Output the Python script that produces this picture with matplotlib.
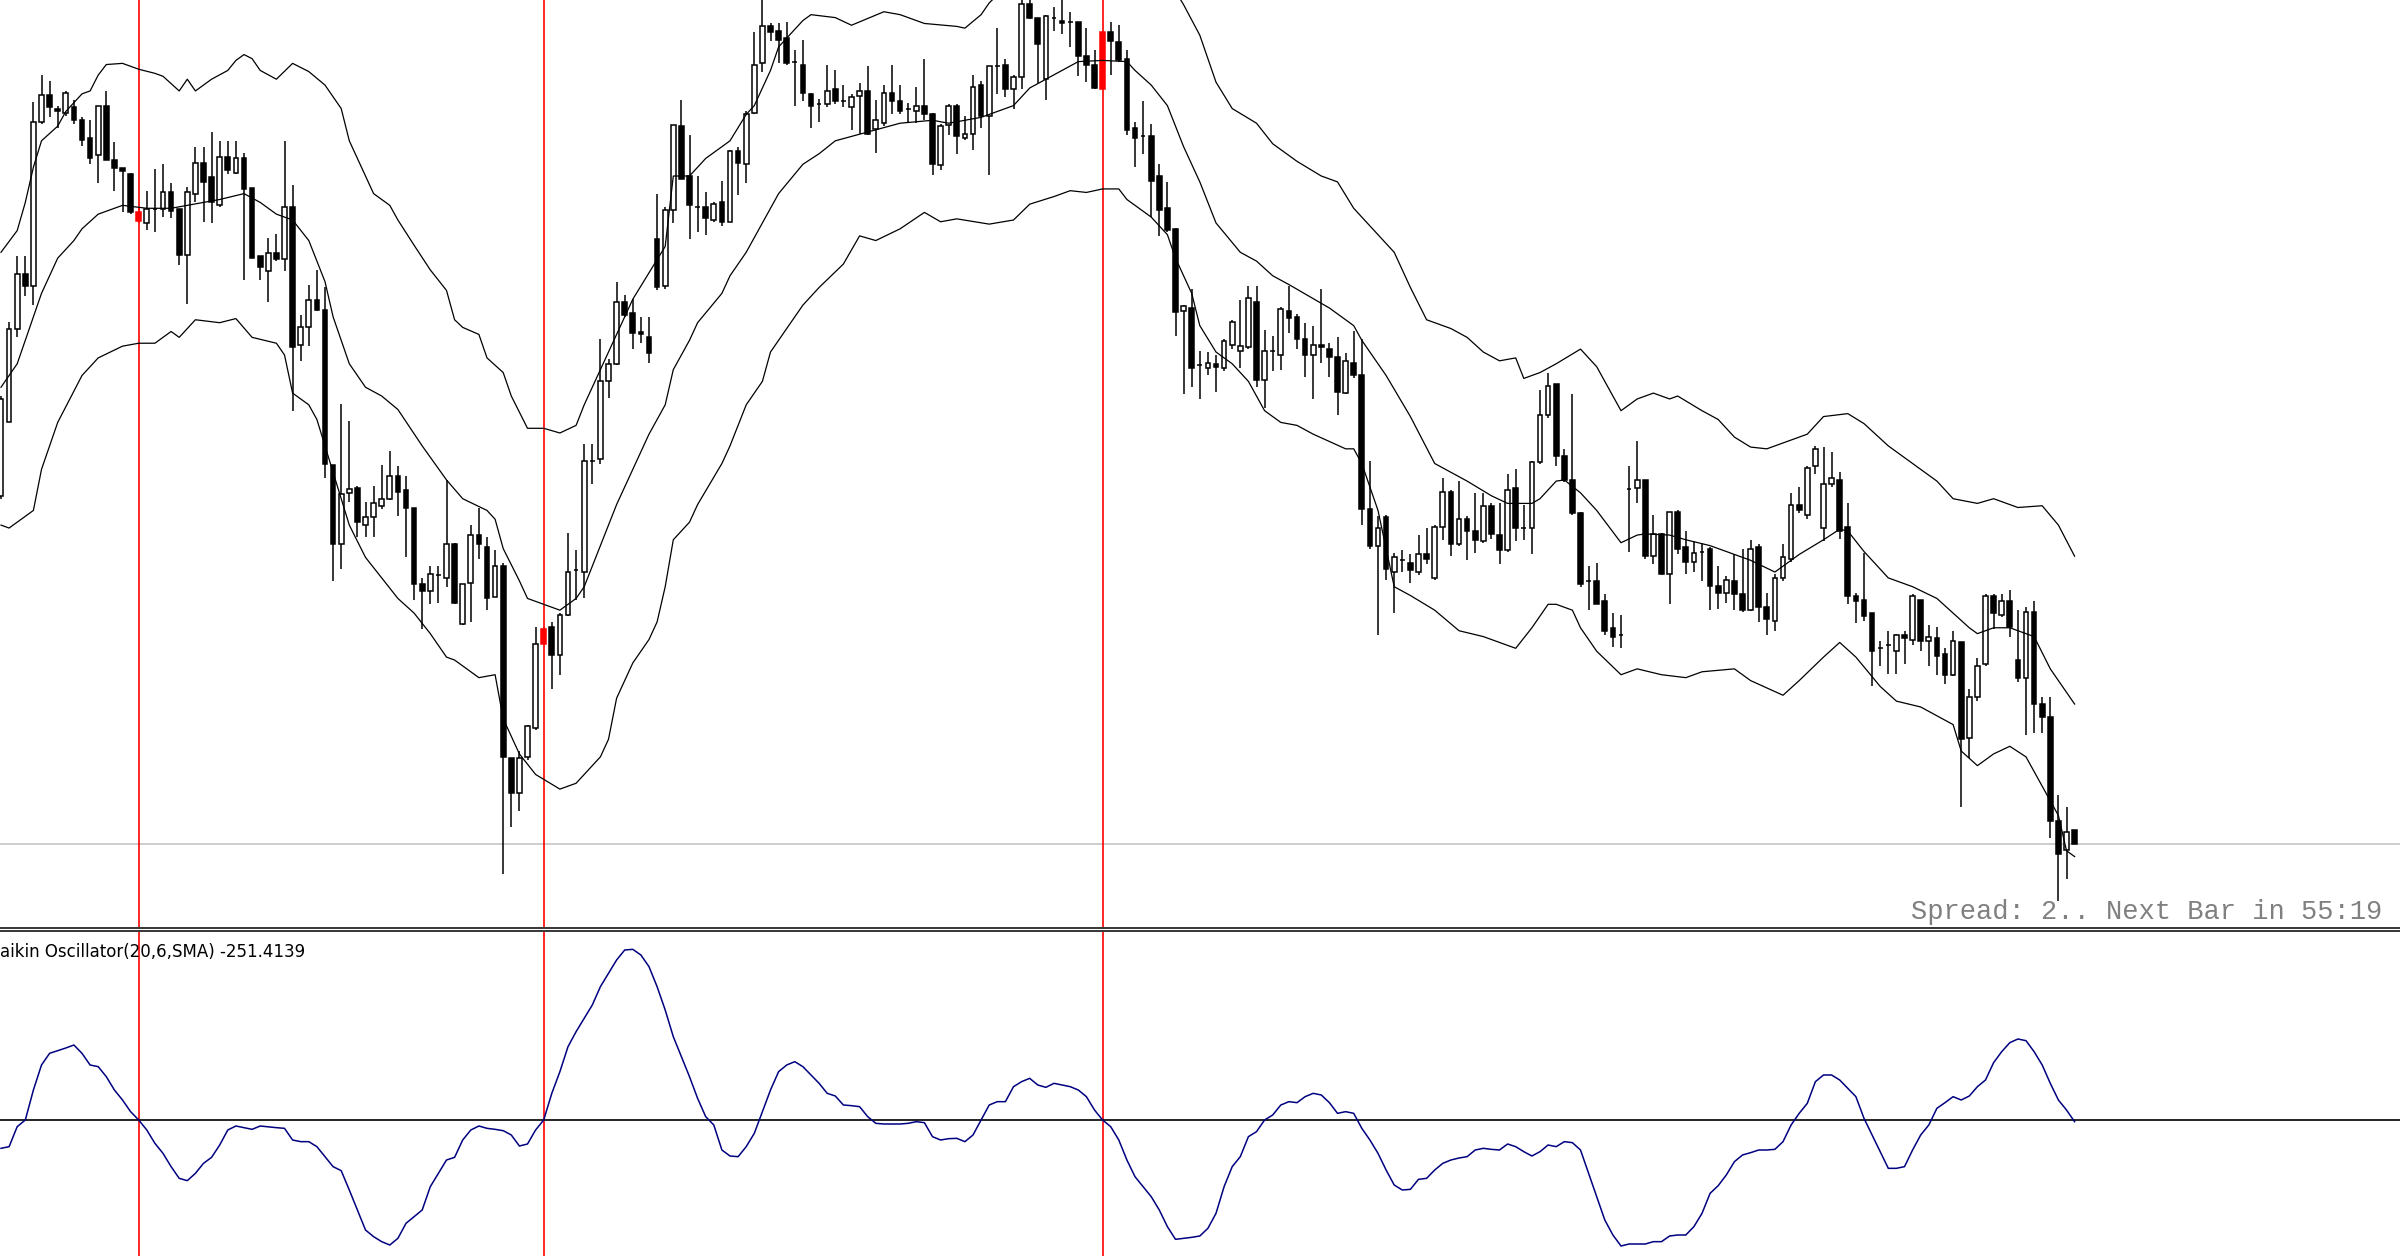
import numpy as np
import matplotlib
matplotlib.use('Agg')
import matplotlib.pyplot as plt
from matplotlib.lines import Line2D

# Prices are in chart points (the screenshot shows no price scale).
opens = [723, 848, 1008, 1101, 1081, 1360, 1406, 1382, 1376, 1386,
         1363, 1333, 1303, 1388, 1296, 1281, 1271, 1206, 1188, 1211,
         1211, 1240, 1211, 1133, 1238, 1291, 1266, 1218, 1301, 1273,
         1298, 1248, 1131, 1106, 1136, 1126, 1216, 980, 1011, 1056,
         1040, 776, 640, 728, 736, 673, 686, 706, 718, 756,
         733, 703, 573, 560, 588, 583, 640, 505, 575, 656,
         636, 550, 603, 276, 216, 278, 328, 471, 500, 451,
         520, 596, 593, 783, 786, 918, 948, 1053, 1035, 1002,
         993, 1160, 1080, 1210, 1353, 1268, 1215, 1216, 1193, 1223,
         1190, 1310, 1288, 1375, 1460, 1523, 1516, 1503, 1463, 1458,
         1408, 1391, 1390, 1416, 1396, 1385, 1405, 1413, 1348, 1358,
         1410, 1396, 1383, 1378, 1388, 1373, 1286, 1355, 1388, 1333,
         1340, 1423, 1370, 1455, 1458, 1416, 1436, 1561, 1538, 1433,
         1538, 1532, 1530, 1530, 1473, 1458, 1416, 1513, 1496, 1468,
         1350, 1336, 1336, 1268, 1213, 1178, 1038, 1043, 946, 940,
         948, 940, 980, 970, 976, 1053, 920, 970, 963, 1038,
         1028, 991, 963, 980, 973, 960, 898, 950, 928, 700,
         638, 686, 593, 613, 608, 593, 623, 583, 670, 730,
         640, 683, 663, 646, 706, 656, 630, 736, 668, 668,
         780, 860, 913, 790, 750, 693, 578, 578, 543, 498,
         486, 735, 736, 750, 620, 658, 590, 696, 636, 610,
         628, 633, 570, 558, 578, 556, 528, 636, 533, 510,
         583, 616, 708, 690, 773, 668, 743, 750, 670, 553,
         546, 523, 463, 468, 458, 486, 478, 546, 476, 480,
         453, 418, 473, 310, 380, 436, 553, 520, 543, 443,
         413, 525, 368, 346, 168, 120, 153]
highs = [893, 1020, 1131, 1131, 1395, 1440, 1430, 1388, 1413, 1398,
         1368, 1363, 1388, 1413, 1326, 1281, 1273, 1213, 1243, 1280,
         1288, 1256, 1211, 1250, 1318, 1318, 1343, 1328, 1328, 1328,
         1308, 1248, 1131, 1163, 1170, 1328, 1253, 1031, 1083, 1108,
         1078, 776, 880, 850, 740, 713, 740, 775, 800, 773,
         756, 703, 583, 603, 603, 750, 643, 573, 673, 703,
         653, 630, 608, 276, 288, 333, 500, 500, 508, 523,
         660, 631, 811, 811, 991, 956, 1088, 1065, 1058, 1028,
         1028, 1238, 1216, 1355, 1398, 1338, 1268, 1240, 1223, 1260,
         1313, 1318, 1378, 1513, 1575, 1528, 1528, 1530, 1483, 1500,
         1410, 1400, 1458, 1448, 1423, 1408, 1426, 1456, 1398, 1423,
         1458, 1423, 1393, 1420, 1468, 1376, 1356, 1390, 1390, 1370,
         1440, 1430, 1455, 1521, 1468, 1440, 1575, 1575, 1538, 1543,
         1556, 1575, 1548, 1530, 1520, 1483, 1513, 1530, 1526, 1483,
         1360, 1396, 1356, 1288, 1258, 1180, 1048, 1076, 970, 968,
         963, 990, 1023, 1056, 1081, 1081, 1005, 996, 1045, 1080,
         1033, 1018, 1013, 1075, 983, 993, 966, 1003, 990, 783,
         688, 690, 626, 630, 623, 656, 668, 673, 753, 733,
         748, 688, 728, 728, 710, 710, 760, 768, 708, 783,
         903, 933, 913, 803, 896, 696, 603, 608, 556, 523,
         520, 773, 816, 750, 690, 660, 696, 698, 663, 646,
         643, 636, 603, 586, 623, 633, 648, 640, 558, 590,
         640, 728, 738, 773, 808, 806, 798, 763, 710, 558,
         626, 523, 476, 493, 488, 493, 556, 546, 503, 500,
         463, 493, 473, 393, 446, 556, 556, 556, 563, 528,
         533, 543, 380, 380, 213, 193, 153]
lows = [718, 848, 993, 1063, 1048, 1356, 1368, 1350, 1370, 1356,
        1320, 1288, 1256, 1296, 1243, 1206, 1203, 1188, 1176, 1173,
        1198, 1196, 1116, 1050, 1223, 1190, 1188, 1216, 1271, 1271,
        1091, 1128, 1091, 1053, 1123, 1106, 868, 953, 978, 1038,
        753, 578, 598, 713, 653, 653, 653, 700, 716, 688,
        618, 546, 496, 538, 541, 568, 538, 503, 508, 615,
        528, 550, 78, 158, 186, 273, 323, 468, 393, 418,
        518, 546, 548, 743, 778, 890, 946, 1028, 973, 983,
        950, 1073, 1076, 1188, 1263, 1160, 1173, 1168, 1190, 1183,
        1190, 1236, 1256, 1373, 1446, 1498, 1460, 1458, 1388, 1396,
        1350, 1360, 1385, 1390, 1386, 1346, 1340, 1338, 1308, 1353,
        1373, 1373, 1358, 1358, 1363, 1270, 1278, 1338, 1306, 1330,
        1313, 1350, 1270, 1408, 1403, 1383, 1416, 1536, 1426, 1398,
        1516, 1510, 1488, 1438, 1428, 1416, 1416, 1440, 1463, 1338,
        1283, 1306, 1198, 1166, 1173, 996, 896, 908, 888, 928,
        900, 936, 973, 940, 973, 908, 873, 936, 938, 1000,
        973, 925, 888, 950, 926, 860, 896, 923, 673, 633,
        486, 580, 523, 593, 575, 588, 606, 580, 648, 620,
        638, 613, 626, 643, 650, 606, 628, 646, 648, 623,
        778, 856, 773, 746, 691, 568, 528, 538, 486, 466,
        463, 628, 710, 616, 606, 588, 538, 623, 590, 593,
        578, 528, 530, 540, 528, 525, 526, 508, 486, 493,
        578, 610, 693, 683, 760, 646, 738, 650, 538, 506,
        510, 398, 433, 420, 420, 436, 468, 458, 433, 418,
        403, 416, 193, 276, 373, 433, 496, 516, 483, 406,
        316, 318, 318, 140, 33, 70, 130]
closes = [888, 1008, 1101, 1081, 1360, 1406, 1386, 1378, 1410, 1363,
          1330, 1298, 1388, 1296, 1281, 1276, 1206, 1191, 1211, 1211,
          1240, 1208, 1133, 1240, 1291, 1258, 1223, 1301, 1278, 1298,
          1246, 1128, 1113, 1136, 1126, 1216, 976, 1011, 1056, 1040,
          778, 640, 726, 735, 678, 686, 711, 718, 756, 730,
          703, 573, 560, 590, 588, 640, 541, 573, 656, 640,
          548, 603, 278, 216, 276, 331, 471, 496, 451, 520,
          593, 596, 783, 783, 918, 948, 1053, 1031, 1001, 998,
          966, 1078, 1210, 1355, 1263, 1218, 1215, 1196, 1220, 1190,
          1310, 1290, 1373, 1458, 1523, 1513, 1500, 1460, 1463, 1410,
          1388, 1391, 1413, 1396, 1396, 1403, 1413, 1340, 1363, 1410,
          1396, 1378, 1383, 1388, 1373, 1288, 1353, 1388, 1336, 1340,
          1420, 1370, 1455, 1455, 1416, 1436, 1561, 1538, 1493, 1541,
          1538, 1528, 1530, 1473, 1458, 1418, 1513, 1498, 1466, 1346,
          1333, 1336, 1260, 1210, 1176, 1036, 1046, 940, 946, 950,
          943, 986, 1020, 978, 1060, 920, 970, 970, 1041, 1026,
          990, 963, 980, 976, 960, 900, 953, 928, 700, 638,
          668, 598, 618, 613, 596, 623, 616, 670, 730, 640,
          683, 663, 648, 706, 658, 631, 733, 668, 668, 780,
          860, 910, 790, 750, 693, 573, 578, 538, 493, 483,
          486, 735, 750, 620, 658, 590, 696, 633, 610, 626,
          628, 570, 558, 580, 556, 528, 633, 533, 513, 583,
          618, 708, 698, 770, 803, 743, 753, 663, 553, 543,
          518, 458, 463, 468, 486, 480, 553, 476, 483, 450,
          418, 475, 308, 380, 433, 553, 523, 543, 500, 413,
          525, 368, 346, 168, 113, 150, 130]
signal_bars = [17, 67, 136]

# Bollinger bands, read at the bars where they could be read
upper_bars = [0, 2, 3, 4, 5, 7, 8, 10, 11, 12, 13, 15, 17, 19, 20, 22, 23, 24, 26, 28,
              29, 30, 31, 32, 34, 36, 38, 40, 42, 43, 45, 46, 48, 49, 51, 53, 55, 56, 57, 59,
              60, 62, 63, 65, 67, 69, 71, 72, 74, 76, 78, 80, 82, 83, 85, 87, 90, 92, 93, 95,
              96, 99, 100, 103, 105, 109, 111, 114, 118, 119, 121, 122, 124, 127, 130, 133, 136, 138, 140, 142,
              144, 146, 148, 150, 152, 155, 157, 160, 163, 165, 167, 169, 172, 174, 176, 179, 181, 183, 185, 187,
              188, 190, 192, 195, 197, 200, 202, 204, 206, 207, 210, 212, 214, 216, 218, 220, 223, 225, 228, 230,
              233, 236, 239, 241, 244, 246, 249, 252, 254, 256]
upper_band = [1138, 1175, 1223, 1283, 1328, 1353, 1378, 1408, 1413, 1440, 1458, 1460, 1450, 1443, 1438, 1413, 1433, 1413, 1433, 1448,
              1465, 1475, 1468, 1448, 1433, 1460, 1446, 1423, 1383, 1328, 1268, 1238, 1218, 1193, 1150, 1108, 1073, 1023, 1010, 998,
              958, 933, 893, 838, 838, 830, 843, 878, 938, 998, 1058, 1103, 1148, 1268, 1268, 1298, 1328, 1373, 1388, 1448,
              1488, 1533, 1543, 1538, 1525, 1548, 1543, 1528, 1523, 1520, 1543, 1563, 1590, 1606, 1644, 1686, 1684, 1680, 1667, 1648,
              1605, 1560, 1508, 1428, 1383, 1358, 1323, 1293, 1268, 1258, 1213, 1183, 1138, 1078, 1023, 1008, 993, 968, 953, 958,
              923, 933, 948, 973, 943, 868, 888, 898, 888, 893, 868, 853, 823, 806, 803, 813, 828, 858, 863, 846,
              808, 778, 748, 718, 710, 718, 703, 706, 673, 620]
middle_bars = [0, 2, 3, 5, 7, 9, 10, 12, 15, 18, 21, 23, 25, 27, 30, 32, 34, 36, 38, 40,
               41, 43, 45, 47, 49, 52, 55, 57, 60, 61, 62, 64, 65, 67, 69, 71, 72, 74, 76, 78,
               80, 82, 83, 85, 86, 89, 90, 92, 94, 96, 99, 101, 103, 107, 111, 115, 117, 121, 123, 125,
               127, 131, 133, 136, 139, 140, 142, 144, 146, 148, 150, 153, 155, 157, 159, 164, 166, 167, 168, 171,
               174, 177, 179, 181, 184, 186, 189, 190, 192, 193, 195, 197, 200, 202, 203, 206, 208, 211, 214, 216,
               219, 220, 222, 225, 227, 228, 230, 233, 236, 239, 241, 243, 244, 246, 248, 251, 253, 255, 256]
middle_band = [908, 948, 988, 1068, 1128, 1158, 1178, 1203, 1218, 1213, 1213, 1218, 1223, 1228, 1238, 1223, 1203, 1193, 1158, 1088,
               1028, 948, 908, 893, 870, 808, 750, 718, 698, 683, 633, 578, 548, 538, 528, 548, 568, 638, 708, 768,
               828, 878, 938, 988, 1018, 1068, 1098, 1138, 1188, 1238, 1288, 1306, 1328, 1343, 1358, 1363, 1358, 1368, 1378, 1388,
               1418, 1448, 1463, 1465, 1463, 1448, 1423, 1388, 1318, 1258, 1188, 1138, 1123, 1098, 1083, 1043, 1023, 1013, 988, 928,
               858, 778, 763, 748, 723, 710, 710, 718, 748, 750, 728, 698, 643, 656, 658, 656, 648, 638, 623, 613,
               593, 603, 623, 648, 666, 663, 628, 583, 568, 548, 523, 498, 488, 498, 498, 483, 428, 388, 368]
lower_bars = [0, 1, 4, 5, 7, 10, 12, 15, 17, 19, 21, 22, 24, 27, 29, 31, 34, 35, 36, 38,
              39, 40, 43, 45, 49, 51, 53, 55, 56, 59, 61, 62, 64, 66, 69, 71, 72, 74, 75, 76,
              78, 80, 81, 82, 83, 85, 86, 89, 90, 92, 94, 95, 97, 99, 101, 104, 106, 108, 111, 114,
              116, 118, 122, 125, 127, 130, 132, 134, 136, 138, 139, 142, 144, 145, 147, 148, 150, 152, 154, 156,
              158, 160, 162, 166, 167, 168, 170, 172, 174, 177, 180, 183, 187, 189, 191, 192, 194, 195, 197, 200,
              202, 205, 208, 210, 214, 216, 220, 222, 225, 227, 229, 232, 234, 237, 241, 242, 244, 246, 248, 250,
              252, 254, 255, 256]
lower_band = [673, 668, 698, 768, 848, 928, 958, 978, 983, 983, 1003, 993, 1023, 1018, 1025, 993, 983, 963, 898, 878,
              853, 808, 673, 618, 548, 523, 488, 448, 443, 413, 418, 343, 283, 248, 223, 233, 248, 278, 308, 378,
              438, 478, 508, 568, 648, 678, 708, 778, 808, 878, 918, 968, 1008, 1048, 1078, 1118, 1166, 1158, 1178, 1206,
              1190, 1195, 1186, 1193, 1220, 1233, 1243, 1240, 1246, 1246, 1228, 1198, 1168, 1128, 1068, 1013, 968, 948, 918, 868,
              848, 843, 828, 803, 803, 778, 698, 568, 553, 528, 493, 483, 463, 498, 538, 538, 528, 498, 458, 418,
              428, 418, 413, 423, 428, 408, 383, 408, 448, 473, 448, 398, 373, 363, 333, 288, 263, 283, 296, 278,
              228, 178, 118, 108]

# Chaikin Oscillator(20,6,SMA)
osc_bars = [0, 1, 2, 3, 4, 5, 6, 8, 9, 10, 11, 12, 13, 14, 15, 16, 17, 18, 19, 20,
            21, 22, 23, 24, 25, 26, 27, 28, 29, 31, 32, 34, 35, 36, 37, 38, 39, 40, 41, 42,
            43, 44, 45, 46, 47, 48, 49, 50, 51, 52, 53, 54, 55, 56, 57, 58, 59, 60, 61, 62,
            63, 64, 65, 66, 67, 68, 69, 70, 71, 72, 73, 74, 75, 76, 77, 78, 79, 80, 81, 82,
            83, 84, 85, 86, 87, 88, 89, 90, 91, 92, 93, 94, 95, 96, 97, 98, 99, 100, 101, 102,
            103, 104, 105, 106, 107, 108, 109, 110, 111, 112, 113, 114, 115, 116, 117, 118, 119, 120, 121, 122,
            123, 124, 125, 126, 127, 128, 129, 130, 131, 132, 133, 134, 135, 136, 137, 138, 139, 140, 141, 142,
            143, 144, 145, 146, 147, 148, 149, 150, 151, 152, 153, 154, 155, 156, 157, 158, 159, 160, 161, 162,
            163, 164, 165, 166, 167, 168, 169, 170, 171, 172, 173, 174, 175, 176, 177, 178, 179, 180, 181, 182,
            183, 184, 185, 186, 187, 188, 189, 190, 191, 192, 193, 194, 195, 196, 197, 198, 199, 200, 201, 202,
            203, 204, 205, 206, 207, 208, 209, 210, 211, 212, 213, 214, 215, 216, 217, 218, 219, 220, 221, 222,
            223, 224, 225, 226, 227, 228, 229, 230, 231, 232, 233, 234, 235, 236, 237, 238, 239, 240, 241, 242,
            243, 244, 245, 246, 247, 248, 249, 250, 251, 252, 253, 254, 255, 256]
osc_vals = [-4250, -4000, -1000, 0, 4500, 8250, 10000, 10800, 11250, 10000, 8250, 8000, 6500, 4500, 3000, 1250, 0, -1500, -3500, -5000,
            -7000, -8750, -9100, -8000, -6500, -5600, -3750, -1500, -900, -1400, -900, -1150, -1250, -3000, -3250, -3250, -4000, -5500, -7000, -7600,
            -10500, -13500, -16500, -17500, -18250, -18750, -17750, -15500, -14500, -13500, -10000, -8000, -6000, -5600, -3000, -1500, -900, -1250, -1400, -1600,
            -2250, -3900, -3600, -1500, 0, 4000, 7250, 11000, 13250, 15250, 17250, 20000, 22000, 24000, 25500, 25600, 24750, 23000, 20000, 16500,
            12500, 9500, 6500, 3250, 500, -750, -4500, -5400, -5500, -4000, -2000, 1250, 4500, 7250, 8250, 8750, 8000, 6750, 5500, 4000,
            3600, 2250, 2150, 2000, 500, -500, -600, -600, -600, -500, -250, -400, -2500, -3000, -2800, -2750, -3250, -2250, 0, 2250,
            2750, 2750, 5000, 5750, 6250, 5250, 4900, 5500, 5250, 5000, 4500, 3500, 1500, 0, -1000, -3000, -6000, -8500, -10000, -11500,
            -13500, -16000, -17900, -17750, -17600, -17400, -16250, -14000, -10000, -7000, -5500, -2500, -1750, 0, 750, 2250, 2750, 2600, 3500, 4000,
            3750, 2600, 1000, 1250, 1000, -1250, -3000, -5000, -7500, -9750, -10500, -10400, -8900, -8750, -7500, -6500, -6000, -5700, -5500, -4500,
            -4250, -4400, -4500, -3600, -4000, -4750, -5400, -4750, -3750, -4000, -3250, -3400, -4500, -8000, -11500, -15000, -17250, -18900, -18600, -18600,
            -18600, -18250, -18250, -17400, -17250, -17250, -16000, -14000, -11000, -9850, -8250, -6250, -5250, -4900, -4500, -4500, -4400, -3250, -750, 1000,
            2500, 5750, 6750, 6750, 6000, 4750, 3500, 250, -2250, -4750, -7250, -7250, -7000, -4500, -2250, -750, 1750, 2600, 3500, 3000,
            3600, 5000, 6000, 8600, 10250, 11600, 12150, 11900, 10250, 8250, 5500, 3000, 1500, -251.4139]

W, H = 2400, 1256          # output size in pixels
BAR_PX = 8.1               # horizontal spacing of bars
MAIN_BOTTOM = 927          # main window ends here (px from top)
OSC_TOP = 932              # indicator window starts here

fig = plt.figure(figsize=(W / 100, H / 100), dpi=100)
fig.patch.set_facecolor('white')
ax = fig.add_axes([0, 1 - MAIN_BOTTOM / H, 1, MAIN_BOTTOM / H])
ax2 = fig.add_axes([0, 0, 1, 1 - OSC_TOP / H])
for a in (ax, ax2):
    a.set_axis_off()
    a.set_xlim(-1 / BAR_PX, (W - 1) / BAR_PX)
ax.set_ylim(-12, 1568)
ax2.set_ylim(-20400, 28200)

# candles
o, h, l, c = (np.array(v, dtype=float) for v in (opens, highs, lows, closes))
x = np.arange(len(o))
is_sig = np.isin(x, signal_bars)
up = c >= o
face = np.where(is_sig, 'red', np.where(up, 'white', 'black'))
edge = np.where(is_sig, 'red', 'black')

ax.axhline(c[-1], color='#c0c0c0', lw=1.1, zorder=0)
for b in signal_bars:
    ax.axvline(b, color='red', lw=1.2, zorder=1)
    ax2.axvline(b, color='red', lw=1.2, zorder=1)

ax.vlines(x, l, h, colors=edge, lw=1.1, zorder=2)
ax.bar(x, np.abs(c - o), bottom=np.minimum(o, c), width=0.58,
       color=face, edgecolor=edge, linewidth=1.1, zorder=3)

for bars, vals in ((upper_bars, upper_band), (middle_bars, middle_band), (lower_bars, lower_band)):
    ax.plot(bars, vals, color='black', lw=0.9, zorder=4)

# oscillator window
ax2.axhline(0, color='black', lw=1.2, zorder=2)
ax2.plot(osc_bars, osc_vals, color='#000080', lw=1.1, zorder=3)

# window separator
for yy in (928.3, 931.3):
    fig.add_artist(Line2D([0, 1], [1 - yy / H] * 2, transform=fig.transFigure,
                          color='black', lw=1.1))

# indicator caption, its first letters are cut by the window edge
label = 'Chaikin Oscillator(20,6,SMA) %.4f' % osc_vals[-1]
label_y = 1 - 957 / H
probe = fig.text(0, label_y, 'Ch', fontsize=12, family='DejaVu Sans')
fig.canvas.draw()
shift = probe.get_window_extent().width / W
probe.remove()
fig.text(-shift, label_y, label, fontsize=12, family='DejaVu Sans',
         va='baseline', color='black')

fig.text(2382 / W, 1 - 919 / H, 'Spread: 2.. Next Bar in 55:19', ha='right', va='baseline',
         family='Liberation Mono', fontsize=19.5, color='#808080')

fig.savefig('out.png', dpi=100)
